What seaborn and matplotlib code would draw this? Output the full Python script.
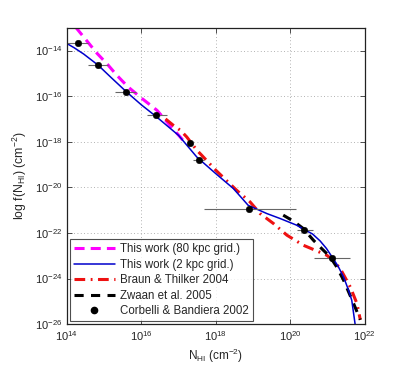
import numpy as np
import pandas as pd
import matplotlib
matplotlib.use("Agg")
import matplotlib.pyplot as plt
import seaborn as sns
from matplotlib.lines import Line2D


# log10 values
work80_x = [14.24, 14.50, 14.81, 15.10, 15.34, 15.64, 16.00, 16.42, 16.77, 17.08, 17.20]
work80_y = [-12.98, -13.50, -14.12, -14.62, -15.08, -15.59, -16.08, -16.62, -17.28, -17.86, -18.10]

work2_x = [14.00, 14.20, 14.45, 14.84, 15.20, 15.60, 16.00, 16.41, 17.00, 17.49, 18.00, 18.47,
           18.87, 19.37, 19.73, 20.17, 20.35, 20.60, 20.80, 20.97, 21.12, 21.28, 21.43, 21.55,
           21.65, 21.74]
work2_y = [-13.69, -13.88, -14.15, -14.64, -15.20, -15.81, -16.38, -16.91, -17.72, -18.67, -19.40,
           -20.05, -20.79, -21.15, -21.37, -21.66, -21.83, -22.05, -22.35, -22.68, -23.05, -23.45,
           -23.93, -24.45, -24.95, -26.00]

braun_x = [16.65, 16.86, 17.05, 17.22, 17.49, 17.62, 18.00, 18.56, 18.92, 19.19, 19.55, 19.91,
           20.35, 20.67, 20.98, 21.15, 21.34, 21.61, 21.79, 21.88]
braun_y = [-17.00, -17.28, -17.50, -17.79, -18.37, -18.59, -19.25, -20.13, -20.64, -21.15, -21.59,
           -22.10, -22.54, -22.76, -22.98, -23.20, -23.56, -24.37, -25.10, -25.81]

zwaan_x = [19.81, 20.10, 20.35, 20.62, 20.85, 21.07, 21.25, 21.43, 21.70, 21.88]
zwaan_y = [-21.22, -21.50, -21.81, -22.32, -22.70, -23.05, -23.50, -24.07, -25.10, -25.81]

cb_x = [14.31, 14.85, 15.59, 16.40, 17.30, 17.55, 18.90, 20.38, 21.12]
cb_y = [-13.69, -14.64, -15.80, -16.82, -18.04, -18.80, -20.96, -21.85, -23.08]
cb_xlo = [14.00, 14.57, 15.29, 16.14, 17.30, 17.40, 17.68, 20.17, 20.64]
cb_xhi = [14.56, 15.11, 15.87, 16.68, 17.30, 17.68, 20.14, 20.60, 21.61]

labels = ["This work (80 kpc grid.)", "This work (2 kpc grid.)",
          "Braun & Thilker 2004", "Zwaan et al. 2005", "Corbelli & Bandiera 2002"]

MAGENTA = "#ff00ff"
BLUE = "#0000cc"
RED = "#ee1111"
DASH_M = [3.3, 2.0]
DASH_R = [3.5, 1.8, 0.6, 1.8]
DASH_K = [3.0, 2.4]


def make_df(xs, ys, name):
    return pd.DataFrame({"N": np.power(10.0, xs), "f": np.power(10.0, ys), "src": name})


sns.set_style("ticks")
plt.rcParams["font.family"] = ["Liberation Sans", "DejaVu Sans"]
plt.rcParams["mathtext.fontset"] = "custom"
plt.rcParams["mathtext.rm"] = "Liberation Sans"
plt.rcParams["mathtext.it"] = "Liberation Sans:italic"

fig = plt.figure(figsize=(4.15, 3.7), dpi=100)
ax = fig.add_axes([0.161, 0.124, 0.718, 0.801])

ax.set_xscale("log")
ax.set_yscale("log")

sns.lineplot(data=make_df(work80_x, work80_y, labels[0]), x="N", y="f", ax=ax,
             color=MAGENTA, lw=2.2, sort=False, estimator=None)
ax.lines[-1].set_dashes(DASH_M)
sns.lineplot(data=make_df(braun_x, braun_y, labels[2]), x="N", y="f", ax=ax,
             color=RED, lw=2.2, sort=False, estimator=None)
ax.lines[-1].set_dashes(DASH_R)
sns.lineplot(data=make_df(zwaan_x, zwaan_y, labels[3]), x="N", y="f", ax=ax,
             color="black", lw=2.2, sort=False, estimator=None)
ax.lines[-1].set_dashes(DASH_K)
sns.lineplot(data=make_df(work2_x, work2_y, labels[1]), x="N", y="f", ax=ax,
             color=BLUE, lw=1.1, sort=False, estimator=None)

# Corbelli & Bandiera points with horizontal bars
cb = make_df(cb_x, cb_y, labels[4])
xerr = [cb["N"] - np.power(10.0, cb_xlo), np.power(10.0, cb_xhi) - cb["N"]]
ax.errorbar(cb["N"], cb["f"], xerr=xerr, fmt="none", ecolor="#666666", elinewidth=0.8, capsize=0)
sns.scatterplot(data=cb, x="N", y="f", ax=ax, color="black", s=22, edgecolor="black", zorder=5)

ax.set_xlim(1e14, 1e22)
ax.set_ylim(1e-26, 1e-13)
ax.set_xticks([1e14, 1e16, 1e18, 1e20, 1e22])
ax.set_yticks([1e-26, 1e-24, 1e-22, 1e-20, 1e-18, 1e-16, 1e-14])
ax.minorticks_off()
ax.tick_params(direction="in", top=True, right=True, length=3.5, width=0.6,
               labelsize=8, color="#333333")
ax.grid(True, linestyle=(0, (1, 3)), color="#999999", lw=0.6)
for sp in ax.spines.values():
    sp.set_color("#222222")
    sp.set_linewidth(0.9)

ax.set_xlabel(r"N$_{\rm HI}$ (cm$^{-2}$)", fontsize=8.5, labelpad=3)
ax.set_ylabel(r"log f(N$_{\rm HI}$) (cm$^{-2}$)", fontsize=8.8, labelpad=4)

handles = [
    Line2D([], [], color=MAGENTA, lw=2.2, dashes=DASH_M),
    Line2D([], [], color=BLUE, lw=1.1),
    Line2D([], [], color=RED, lw=2.2, dashes=DASH_R),
    Line2D([], [], color="black", lw=2.2, dashes=DASH_K),
    Line2D([], [], color="black", marker="o", ls="none", ms=4.5),
]
leg = ax.legend(handles, labels, loc="lower left", fontsize=8.3, frameon=True, fancybox=False,
                handlelength=3.6, handletextpad=0.4, borderpad=0.35, labelspacing=0.3,
                borderaxespad=0.25)
leg.get_frame().set_edgecolor("#222222")
leg.get_frame().set_linewidth(0.8)

fig.savefig("out.png", dpi=100)
